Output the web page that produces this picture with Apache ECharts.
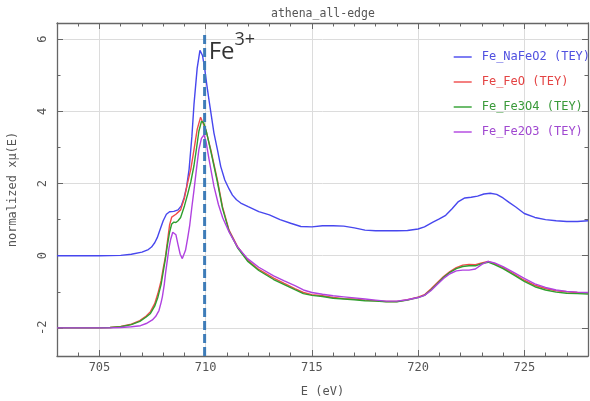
<!DOCTYPE html>
<html><head><meta charset="utf-8">
<script src="https://cdn.jsdelivr.net/npm/echarts@6/dist/echarts.min.js"></script>
<style>html,body{margin:0;padding:0;background:#fff}#c{width:590px;height:401px}</style>
</head><body><div id="c"></div>
<script>
// ---- data ----
const seriesNames = ['Fe_NaFeO2 (TEY)', 'Fe_FeO (TEY)', 'Fe_Fe3O4 (TEY)', 'Fe_Fe2O3 (TEY)'];
const naFeO2 = [[703,0],[704,0],[705,0],[706,0.01],[706.5,0.04],[707,0.1],[707.3,0.17],[707.45,0.24],[707.6,0.36],[707.72,0.5],[707.85,0.72],[708,0.97],[708.15,1.15],[708.3,1.22],[708.5,1.23],[708.7,1.27],[708.85,1.38],[708.98,1.6],[709.1,1.9],[709.22,2.4],[709.35,3.3],[709.45,4.2],[709.6,5.2],[709.73,5.69],[709.85,5.55],[709.95,5.2],[710.05,4.75],[710.16,4.3],[710.39,3.4],[710.55,2.95],[710.71,2.47],[710.9,2.1],[711.1,1.85],[711.26,1.68],[711.45,1.55],[711.65,1.46],[712,1.36],[712.5,1.22],[713,1.13],[713.5,1.0],[714,0.9],[714.48,0.81],[715,0.8],[715.5,0.83],[716,0.83],[716.5,0.82],[717,0.77],[717.5,0.71],[718,0.69],[718.5,0.69],[719,0.69],[719.5,0.7],[720,0.74],[720.3,0.8],[720.7,0.93],[721,1.02],[721.3,1.12],[721.6,1.3],[721.9,1.5],[722.2,1.6],[722.5,1.62],[722.8,1.65],[723.1,1.71],[723.4,1.73],[723.7,1.7],[724,1.6],[724.3,1.47],[724.6,1.35],[725,1.17],[725.5,1.06],[726,1.0],[726.5,0.97],[727,0.95],[727.5,0.95],[728,0.97]];
const feO = [[703,-2],[704,-2],[705,-2],[705.5,-1.99],[706,-1.96],[706.5,-1.9],[706.9,-1.8],[707.2,-1.67],[707.4,-1.55],[707.6,-1.33],[707.75,-1.05],[707.9,-0.7],[708,-0.35],[708.1,-0.05],[708.2,0.4],[708.3,0.85],[708.4,1.07],[708.6,1.15],[708.82,1.27],[709,1.6],[709.14,2.0],[709.3,2.4],[709.45,2.94],[709.6,3.5],[709.76,3.84],[709.85,3.82],[710,3.5],[710.24,2.94],[710.55,2.1],[710.79,1.36],[711.1,0.71],[711.5,0.25],[711.97,-0.12],[712.5,-0.38],[713.2,-0.62],[713.7,-0.77],[714.2,-0.91],[714.6,-1.02],[715,-1.08],[715.5,-1.11],[716,-1.16],[716.5,-1.19],[717,-1.2],[717.5,-1.23],[718,-1.25],[718.5,-1.27],[719,-1.27],[719.5,-1.22],[720,-1.15],[720.3,-1.08],[720.6,-0.92],[720.9,-0.75],[721.2,-0.58],[721.5,-0.44],[721.8,-0.33],[722.1,-0.26],[722.4,-0.24],[722.7,-0.25],[723,-0.2],[723.3,-0.16],[723.6,-0.22],[724,-0.33],[724.5,-0.5],[725,-0.68],[725.5,-0.82],[726,-0.91],[726.5,-0.97],[727,-1.0],[727.5,-1.02],[728,-1.03]];
const fe3O4 = [[703,-2],[704,-2],[705,-2],[705.5,-1.99],[706,-1.97],[706.5,-1.91],[706.9,-1.82],[707.2,-1.7],[707.4,-1.6],[707.6,-1.4],[707.75,-1.15],[707.9,-0.8],[708,-0.45],[708.1,-0.1],[708.2,0.3],[708.3,0.65],[708.4,0.88],[708.5,0.93],[708.6,0.92],[708.7,0.97],[708.82,1.06],[709,1.38],[709.15,1.7],[709.3,2.05],[709.45,2.5],[709.56,2.94],[709.68,3.45],[709.8,3.72],[709.9,3.7],[710.05,3.4],[710.24,2.9],[710.55,2.05],[710.79,1.32],[711.1,0.68],[711.5,0.22],[711.97,-0.15],[712.5,-0.41],[713.2,-0.66],[713.7,-0.8],[714.2,-0.94],[714.6,-1.05],[715,-1.1],[715.5,-1.13],[716,-1.18],[716.5,-1.2],[717,-1.22],[717.5,-1.25],[718,-1.26],[718.5,-1.28],[719,-1.28],[719.5,-1.23],[720,-1.16],[720.3,-1.1],[720.6,-0.95],[720.9,-0.78],[721.2,-0.6],[721.5,-0.46],[721.8,-0.36],[722.1,-0.3],[722.4,-0.28],[722.7,-0.28],[723,-0.22],[723.3,-0.18],[723.6,-0.25],[724,-0.36],[724.5,-0.53],[725,-0.71],[725.5,-0.86],[726,-0.95],[726.5,-1.01],[727,-1.04],[727.5,-1.05],[728,-1.06]];
const fe2O3 = [[703,-2],[704,-2],[705,-2],[705.5,-2],[706,-1.99],[706.5,-1.97],[706.93,-1.94],[707.2,-1.88],[707.49,-1.78],[707.65,-1.68],[707.8,-1.52],[707.9,-1.3],[707.96,-1.14],[708.05,-0.8],[708.11,-0.49],[708.2,-0.1],[708.27,0.2],[708.35,0.45],[708.45,0.65],[708.52,0.69],[708.6,0.58],[708.7,0.3],[708.8,0.04],[708.9,-0.08],[708.98,-0.04],[709.05,0.15],[709.15,0.48],[709.25,0.85],[709.35,1.35],[709.45,1.82],[709.58,2.47],[709.68,2.94],[709.8,3.25],[709.92,3.35],[710.02,3.15],[710.16,2.66],[710.39,1.92],[710.6,1.42],[710.8,1.05],[711.1,0.66],[711.5,0.24],[711.97,-0.08],[712.5,-0.32],[713.2,-0.56],[713.7,-0.7],[714.2,-0.83],[714.6,-0.95],[715,-1.02],[715.5,-1.07],[716,-1.11],[716.5,-1.14],[717,-1.17],[717.5,-1.2],[718,-1.23],[718.5,-1.26],[719,-1.26],[719.5,-1.22],[720,-1.16],[720.3,-1.1],[720.6,-0.97],[720.9,-0.8],[721.2,-0.63],[721.5,-0.5],[721.8,-0.42],[722.1,-0.4],[722.4,-0.4],[722.7,-0.37],[723,-0.24],[723.3,-0.16],[723.6,-0.2],[724,-0.3],[724.5,-0.46],[725,-0.63],[725.5,-0.78],[726,-0.88],[726.5,-0.95],[727,-0.99],[727.5,-1.01],[728,-1.02]];
const markerEnergy = 709.95;
const markerSpan = [-2.78, 6.16];
const markerLabelPos = [710.14, 6.24];
const xExtent = [703, 728];
const yExtent = [-2.78, 6.45];
const xMinorTicks = [704,706,707,708,709,711,712,713,714,716,717,718,719,721,722,723,724,726,727];
const yMinorTicks = [-1,1,3,5];

// ---- styles ----
const lineColors = ['#4747ee', '#f04a4a', '#2f9f2f', '#b042e0'];
const legendColors = ['#5050e0', '#e44444', '#3a9a3a', '#a048d0'];
const frame = '#666';
const mono = 'DejaVu Sans Mono';

function mkX(pos, main, ticks, len) {
  return {
    type: 'value', position: pos, min: xExtent[0], max: xExtent[1], splitNumber: 5,
    axisLine: { show: main, onZero: false, lineStyle: { color: frame, width: 1.3 } },
    axisTick: Object.assign({ show: true, inside: true, length: len, lineStyle: { color: frame, width: 1 } }, ticks ? { customValues: ticks } : {}),
    axisLabel: { show: false },
    splitLine: { show: false }
  };
}
function mkY(pos, main, ticks, len) {
  return {
    type: 'value', position: pos, min: yExtent[0], max: yExtent[1], splitNumber: 5,
    axisLine: { show: main, onZero: false, lineStyle: { color: frame, width: 1.3 } },
    axisTick: Object.assign({ show: true, inside: true, length: len, lineStyle: { color: frame, width: 1 } }, ticks ? { customValues: ticks } : {}),
    axisLabel: { show: false },
    splitLine: { show: false }
  };
}

const xMain = mkX('bottom', true, null, 6);
xMain.axisLabel = { show: true, showMinLabel: false, showMaxLabel: false, margin: 6, fontFamily: mono, fontSize: 12, color: '#555' };
xMain.splitLine = { show: true, lineStyle: { color: '#dcdcdc', width: 1 } };
xMain.name = 'E (eV)'; xMain.nameLocation = 'middle'; xMain.nameGap = 30;
xMain.nameTextStyle = { fontFamily: mono, fontSize: 12, color: '#555' };

const yMain = mkY('left', true, null, 6);
yMain.axisLabel = { show: true, rotate: 90, showMinLabel: false, showMaxLabel: false, margin: 8, fontFamily: mono, fontSize: 12, color: '#555' };
yMain.splitLine = { show: true, lineStyle: { color: '#dcdcdc', width: 1 } };
yMain.name = 'normalized xμ(E)'; yMain.nameLocation = 'middle'; yMain.nameGap = 38; yMain.nameRotate = 90;
yMain.nameTextStyle = { fontFamily: mono, fontSize: 12, color: '#555' };

const curves = [naFeO2, feO, fe3O4, fe2O3];
const series = curves.map((d, i) => ({
  name: seriesNames[i], type: 'line', data: d, symbol: 'none', showSymbol: false,
  lineStyle: { color: lineColors[i], width: 1.4 }, itemStyle: { color: lineColors[i] },
  xAxisIndex: 0, yAxisIndex: 0, animation: false, z: 3
}));
series.push({
  name: 'marker', type: 'line', data: [[markerEnergy, markerSpan[0]], [markerEnergy, markerSpan[1]]],
  symbol: 'none', lineStyle: { color: '#3e7cb8', width: 3, type: [9, 4] }, z: 5, animation: false, silent: true
});
series.push({
  name: 'label', type: 'scatter', data: [markerLabelPos], symbolSize: 0, animation: false, silent: true, z: 6,
  label: {
    show: true, position: [0, 0], formatter: '{a|Fe}{b|3+}',
    rich: {
      a: { fontFamily: 'Open Sans', fontSize: 24, color: '#000', lineHeight: 34, verticalAlign: 'bottom' },
      b: { fontFamily: 'Open Sans', fontSize: 18, color: '#000', lineHeight: 18, verticalAlign: 'top' }
    }
  }
});

const chart = echarts.init(document.getElementById('c'), null, { renderer: 'canvas' });
chart.setOption({
  animation: false,
  backgroundColor: '#fff',
  title: { text: 'athena_all-edge', left: 266, top: 3, textStyle: { fontFamily: mono, fontSize: 11.5, fontWeight: 'normal', color: '#555' } },
  grid: { left: 57, right: 2, top: 23, bottom: 45, containLabel: false, outerBoundsMode: 'none' },
  legend: {
    orient: 'vertical', left: 453, top: 51, padding: 0, itemWidth: 18, itemHeight: 14, itemGap: 13,
    itemStyle: { opacity: 0 },
    lineStyle: { width: 1.4 },
    data: seriesNames.map((n, i) => ({ name: n, textStyle: { color: legendColors[i] } })),
    textStyle: { fontFamily: mono, fontSize: 12, padding: [0, 0, 0, 5] }
  },
  xAxis: [xMain, mkX('bottom', false, xMinorTicks, 3.5), mkX('top', true, null, 6), mkX('top', false, xMinorTicks, 3.5)],
  yAxis: [yMain, mkY('left', false, yMinorTicks, 3.5), mkY('right', true, null, 6), mkY('right', false, yMinorTicks, 3.5)],
  series: series
});
</script></body></html>
